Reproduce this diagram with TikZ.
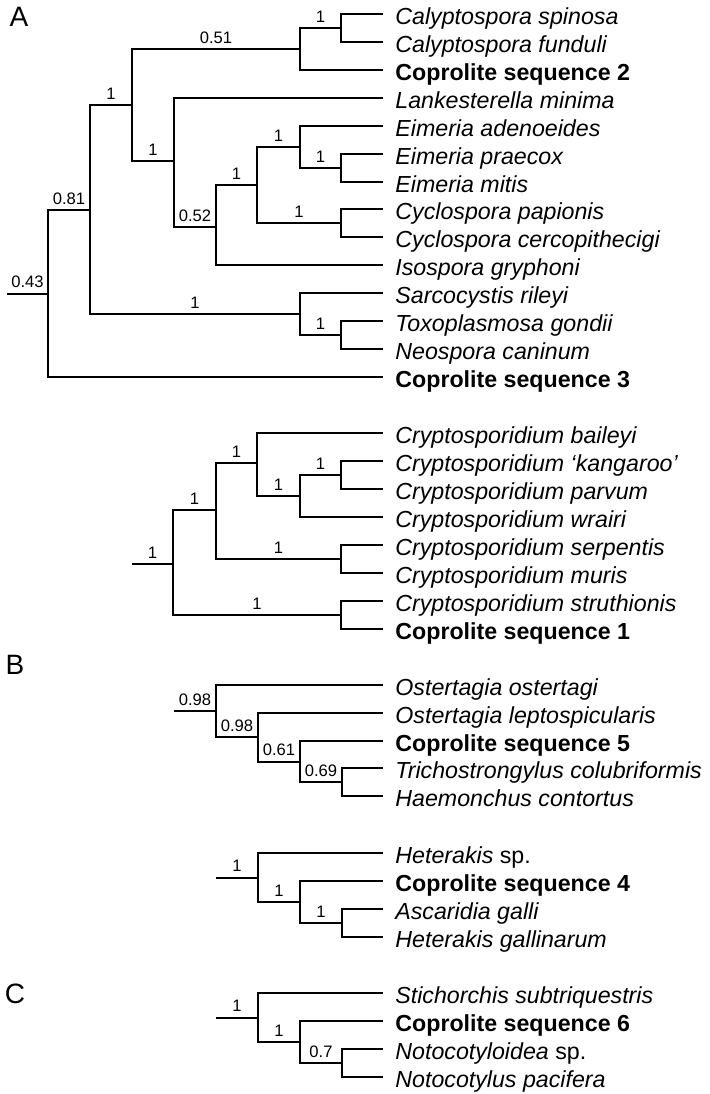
\documentclass[tikz,border=0pt]{standalone}
\usepackage{fontspec}
\setmainfont{Liberation Sans}
\usetikzlibrary{positioning}

\begin{document}
\begin{tikzpicture}[
            x=0.5pt, y=-0.5pt,
            % Stile per i rami
            branch/.style={line width=1pt, black},
            % Stile per i nomi dei taxa
            taxon/.style={anchor=west, inner xsep=6pt, inner ysep=0pt, text height=10pt, text depth=0pt,
                font=\fontsize{11.6}{13}\selectfont\itshape},
            coprolite/.style={taxon, font=\fontsize{11.6}{13}\selectfont\bfseries},
            % Stile per i valori di supporto
            support/.style={above, inner sep=2.5pt, text depth=0pt, font=\fontsize{8.3}{10}\selectfont},
            % Stile per le lettere dei pannelli
            panel/.style={inner sep=0pt, font=\fontsize{14}{16}\selectfont}
        ]
            \useasboundingbox (0,0) rectangle (710,1094);

            % --- Lettere dei pannelli ---
            \node[panel] (pA) at (19,17) {A};
            \node[panel] (pB) at (15,665) {B};
            \node[panel] (pC) at (15,994) {C};

            % --- A: Eimeriorina ---
            \foreach \n/\y/\s/\t in {a1/14/taxon/Calyptospora spinosa, a2/42/taxon/Calyptospora funduli,
                    a3/70/coprolite/Coprolite sequence 2, a4/98/taxon/Lankesterella minima,
                    a5/126/taxon/Eimeria adenoeides, a6/154/taxon/Eimeria praecox, a7/182/taxon/Eimeria mitis,
                    a8/209/taxon/Cyclospora papionis, a9/237/taxon/Cyclospora cercopithecigi,
                    a10/265/taxon/Isospora gryphoni, a11/293/taxon/Sarcocystis rileyi,
                    a12/321/taxon/Toxoplasmosa gondii, a13/349/taxon/Neospora caninum,
                    a14/377/coprolite/Coprolite sequence 3}
                \node[\s] (\n) at (383,\y) {\t};

            \coordinate (aca) at (341,28);
            \coordinate (acb) at (300,49);
            \coordinate (aea) at (341,168);
            \coordinate (aeb) at (300,147);
            \coordinate (acy) at (341,223);
            \coordinate (aec) at (257,185);
            \coordinate (aed) at (216,227);
            \coordinate (ala) at (174,161);
            \coordinate (aab) at (132,105);
            \coordinate (ato) at (341,335);
            \coordinate (asa) at (300,314);
            \coordinate (aac) at (90,210);
            \coordinate (aar) at (48,293.5);
            \coordinate (a0) at (7,293.5);

            \draw[branch] (aca) |- (a1);
            \draw[branch] (aca) |- (a2);
            \draw[branch] (acb) |- (aca) node[support, pos=0.75] {1};
            \draw[branch] (acb) |- (a3);
            \draw[branch] (aea) |- (a6);
            \draw[branch] (aea) |- (a7);
            \draw[branch] (aeb) |- (a5);
            \draw[branch] (aeb) |- (aea) node[support, pos=0.75] {1};
            \draw[branch] (acy) |- (a8);
            \draw[branch] (acy) |- (a9);
            \draw[branch] (aec) |- (aeb) node[support, pos=0.75] {1};
            \draw[branch] (aec) |- (acy) node[support, pos=0.75] {1};
            \draw[branch] (aed) |- (aec) node[support, pos=0.75] {1};
            \draw[branch] (aed) |- (a10);
            \draw[branch] (ala) |- (a4);
            \draw[branch] (ala) |- (aed) node[support, pos=0.75] {0.52};
            \draw[branch] (aab) |- (acb) node[support, pos=0.75] {0.51};
            \draw[branch] (aab) |- (ala) node[support, pos=0.75] {1};
            \draw[branch] (ato) |- (a12);
            \draw[branch] (ato) |- (a13);
            \draw[branch] (asa) |- (a11);
            \draw[branch] (asa) |- (ato) node[support, pos=0.75] {1};
            \draw[branch] (aac) |- (aab) node[support, pos=0.75] {1};
            \draw[branch] (aac) |- (asa) node[support, pos=0.75] {1};
            \draw[branch] (aar) |- (aac) node[support, pos=0.75] {0.81};
            \draw[branch] (aar) |- (a14);
            \draw[branch] (a0) -- (aar) node[support, midway] {0.43};

            % --- A: Cryptosporidium ---
            \foreach \n/\y/\s/\t in {c1/433/taxon/Cryptosporidium baileyi, c2/461/taxon/Cryptosporidium `kangaroo',
                    c3/489/taxon/Cryptosporidium parvum, c4/517/taxon/Cryptosporidium wrairi,
                    c5/545/taxon/Cryptosporidium serpentis, c6/573/taxon/Cryptosporidium muris,
                    c7/601/taxon/Cryptosporidium struthionis, c8/629/coprolite/Coprolite sequence 1}
                \node[\s] (\n) at (383,\y) {\t};

            \coordinate (cka) at (341,475);
            \coordinate (ckb) at (300,496);
            \coordinate (ckc) at (257,463);
            \coordinate (ckd) at (341,559);
            \coordinate (cke) at (216,510);
            \coordinate (ckf) at (341,615);
            \coordinate (ckr) at (173,564);
            \coordinate (c0) at (132,564);

            \draw[branch] (cka) |- (c2);
            \draw[branch] (cka) |- (c3);
            \draw[branch] (ckb) |- (cka) node[support, pos=0.75] {1};
            \draw[branch] (ckb) |- (c4);
            \draw[branch] (ckc) |- (c1);
            \draw[branch] (ckc) |- (ckb) node[support, pos=0.75] {1};
            \draw[branch] (ckd) |- (c5);
            \draw[branch] (ckd) |- (c6);
            \draw[branch] (cke) |- (ckc) node[support, pos=0.75] {1};
            \draw[branch] (cke) |- (ckd) node[support, pos=0.75] {1};
            \draw[branch] (ckf) |- (c7);
            \draw[branch] (ckf) |- (c8);
            \draw[branch] (ckr) |- (cke) node[support, pos=0.75] {1};
            \draw[branch] (ckr) |- (ckf) node[support, pos=0.75] {1};
            \draw[branch] (c0) -- (ckr) node[support, midway] {1};

            % --- B: Trichostrongylidae ---
            \foreach \n/\y/\s/\t in {o1/685/taxon/Ostertagia ostertagi, o2/713/taxon/Ostertagia leptospicularis,
                    o3/741/coprolite/Coprolite sequence 5, o4/768/taxon/Trichostrongylus colubriformis,
                    o5/796/taxon/Haemonchus contortus}
                \node[\s] (\n) at (383,\y) {\t};

            \coordinate (ooa) at (342,782);
            \coordinate (oob) at (300,761.5);
            \coordinate (ooc) at (258,737);
            \coordinate (oor) at (216,711);
            \coordinate (o0) at (174,711);

            \draw[branch] (ooa) |- (o4);
            \draw[branch] (ooa) |- (o5);
            \draw[branch] (oob) |- (o3);
            \draw[branch] (oob) |- (ooa) node[support, pos=0.75] {0.69};
            \draw[branch] (ooc) |- (o2);
            \draw[branch] (ooc) |- (oob) node[support, pos=0.75] {0.61};
            \draw[branch] (oor) |- (o1);
            \draw[branch] (oor) |- (ooc) node[support, pos=0.75] {0.98};
            \draw[branch] (o0) -- (oor) node[support, midway] {0.98};

            % --- B: Heterakidae ---
            \foreach \n/\y/\s/\t in {h1/853/taxon/{Heterakis \upshape sp.}, h2/881/coprolite/Coprolite sequence 4,
                    h3/909/taxon/Ascaridia galli, h4/937/taxon/Heterakis gallinarum}
                \node[\s] (\n) at (383,\y) {\t};

            \coordinate (hha) at (342,923);
            \coordinate (hhb) at (300,902);
            \coordinate (hhr) at (258,877.5);
            \coordinate (h0) at (216,877.5);

            \draw[branch] (hha) |- (h3);
            \draw[branch] (hha) |- (h4);
            \draw[branch] (hhb) |- (h2);
            \draw[branch] (hhb) |- (hha) node[support, pos=0.75] {1};
            \draw[branch] (hhr) |- (h1);
            \draw[branch] (hhr) |- (hhb) node[support, pos=0.75] {1};
            \draw[branch] (h0) -- (hhr) node[support, midway] {1};

            % --- C: Notocotylidae ---
            \foreach \n/\y/\s/\t in {s1/993/taxon/Stichorchis subtriquestris, s2/1021/coprolite/Coprolite sequence 6,
                    s3/1049/taxon/{Notocotyloidea \upshape sp.}, s4/1077/taxon/Notocotylus pacifera}
                \node[\s] (\n) at (383,\y) {\t};

            \coordinate (ssa) at (342,1063);
            \coordinate (ssb) at (300,1042);
            \coordinate (ssr) at (258,1017.5);
            \coordinate (s0) at (216,1017.5);

            \draw[branch] (ssa) |- (s3);
            \draw[branch] (ssa) |- (s4);
            \draw[branch] (ssb) |- (s2);
            \draw[branch] (ssb) |- (ssa) node[support, pos=0.75] {0.7};
            \draw[branch] (ssr) |- (s1);
            \draw[branch] (ssr) |- (ssb) node[support, pos=0.75] {1};
            \draw[branch] (s0) -- (ssr) node[support, midway] {1};

        \end{tikzpicture}
\end{document}
